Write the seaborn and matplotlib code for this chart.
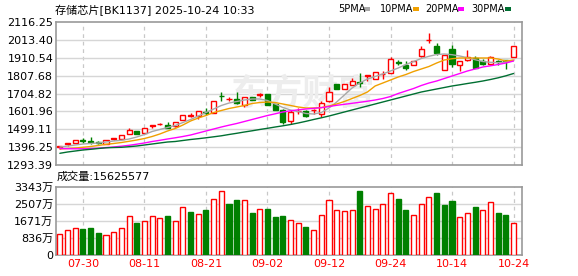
import numpy as np
import pandas as pd
import matplotlib
matplotlib.use("Agg")
import matplotlib.pyplot as plt
import seaborn as sns

# ---------------- data ----------------
open_ = [1398.7, 1412.5, 1418.3, 1437.2, 1429.8, 1424.0, 1414.3, 1444.8, 1443.0, 1470.0,
         1489.0, 1479.3, 1519.6, 1527.6, 1525.3, 1515.0, 1552.4, 1577.0, 1577.1, 1598.4,
         1594.3, 1693.3, 1671.5, 1673.2, 1638.7, 1684.7, 1697.9, 1702.0, 1642.7, 1609.9,
         1548.3, 1602.4, 1604.1, 1608.2, 1588.6, 1661.7, 1759.5, 1729.0, 1753.8, 1772.7,
         1805.5, 1786.5, 1815.3, 1824.5, 1886.1, 1868.8, 1868.8, 1922.3, 2011.0, 1979.9,
         1840.1, 1960.9, 1868.8, 1897.6, 1907.4, 1891.8, 1872.9, 1890.1, 1895.9, 1916.6]
high = [1404.5, 1418.3, 1436.0, 1447.1, 1454.5, 1431.5, 1436.0, 1448.8, 1465.0, 1504.6,
        1491.0, 1505.0, 1523.6, 1536.8, 1540.9, 1541.0, 1581.1, 1592.6, 1604.5, 1619.7,
        1662.0, 1711.7, 1686.4, 1711.7, 1687.0, 1686.0, 1709.4, 1703.0, 1643.0, 1613.9,
        1609.9, 1619.7, 1609.9, 1613.9, 1661.7, 1744.0, 1760.0, 1758.0, 1792.3, 1821.0,
        1811.3, 1827.0, 1836.0, 1916.6, 1899.3, 1891.8, 1892.0, 1979.9, 2051.2, 1993.7,
        1927.0, 1983.9, 1894.0, 1955.1, 1922.3, 1905.1, 1920.6, 1897.6, 1897.6, 1981.0]
low = [1385.5, 1404.5, 1418.0, 1421.8, 1414.3, 1412.5, 1414.0, 1437.2, 1443.0, 1470.0,
       1472.0, 1479.0, 1508.0, 1521.8, 1507.0, 1514.0, 1552.0, 1567.9, 1558.1, 1581.1,
       1594.0, 1661.7, 1663.4, 1647.0, 1625.4, 1666.0, 1683.0, 1639.0, 1609.0, 1527.6,
       1529.3, 1585.1, 1569.6, 1585.1, 1571.3, 1656.0, 1728.0, 1728.0, 1753.0, 1740.5,
       1776.8, 1786.0, 1788.3, 1824.0, 1868.8, 1840.1, 1868.0, 1916.6, 1993.7, 1926.4,
       1839.0, 1859.0, 1836.0, 1891.8, 1852.0, 1868.8, 1868.8, 1868.8, 1844.0, 1916.0]
close = [1404.5, 1418.3, 1435.5, 1433.2, 1425.8, 1420.0, 1435.5, 1448.8, 1464.3, 1493.0,
         1473.5, 1504.6, 1523.6, 1531.0, 1508.0, 1540.9, 1581.1, 1580.0, 1604.1, 1594.3,
         1661.7, 1687.6, 1674.9, 1648.4, 1686.4, 1667.4, 1703.7, 1640.4, 1609.9, 1539.1,
         1596.6, 1605.9, 1577.1, 1611.6, 1651.9, 1715.2, 1729.0, 1757.8, 1776.8, 1763.5,
         1811.3, 1826.8, 1819.9, 1901.6, 1882.1, 1849.8, 1891.8, 1960.9, 2014.4, 1936.2,
         1926.4, 1872.9, 1893.6, 1916.6, 1853.3, 1872.9, 1913.1, 1886.1, 1891.8, 1979.9]

ma5 = [1397.0, 1402.7, 1408.5, 1414.2, 1417.1, 1420.0, 1425.7, 1431.5, 1435.5, 1443.0,
       1454.5, 1468.9, 1486.1, 1497.7, 1509.2, 1520.7, 1537.9, 1555.2, 1575.3, 1595.5,
       1615.6, 1635.8, 1650.1, 1658.8, 1667.4, 1673.2, 1673.2, 1664.5, 1644.4, 1624.2,
       1609.9, 1601.2, 1589.7, 1586.8, 1595.5, 1621.4, 1655.9, 1696.2, 1736.4, 1765.2,
       1788.2, 1802.6, 1817.0, 1834.3, 1851.5, 1871.7, 1888.9, 1906.2, 1918.9, 1929.2,
       1932.1, 1928.1, 1920.6, 1910.8, 1899.3, 1888.9, 1884.3, 1882.0, 1886.1, 1893.5]
ma10 = [1385.5, 1388.3, 1391.2, 1395.2, 1399.9, 1405.6, 1412.5, 1417.1, 1422.8, 1429.8,
        1437.2, 1445.9, 1457.4, 1471.8, 1489.0, 1503.4, 1523.5, 1546.6, 1563.8, 1578.2,
        1595.5, 1607.0, 1618.5, 1627.1, 1635.8, 1647.3, 1653.0, 1655.9, 1653.0, 1644.4,
        1635.8, 1627.1, 1621.4, 1621.4, 1624.2, 1632.9, 1644.4, 1658.8, 1676.0, 1693.3,
        1713.4, 1748.0, 1765.2, 1782.5, 1799.7, 1814.1, 1831.4, 1845.8, 1860.2, 1880.3,
        1897.6, 1905.0, 1909.1, 1909.1, 1909.1, 1909.1, 1909.1, 1903.3, 1891.8, 1897.6]
ma20 = [1388.3, 1387.2, 1386.6, 1386.6, 1387.8, 1390.1, 1393.5, 1397.0, 1401.6, 1406.7,
        1413.1, 1420.0, 1428.6, 1435.5, 1443.0, 1449.9, 1457.4, 1466.0, 1477.5, 1489.0,
        1500.5, 1512.0, 1522.4, 1532.2, 1543.7, 1555.2, 1566.7, 1578.2, 1588.0, 1598.4,
        1605.3, 1611.0, 1615.6, 1619.6, 1623.1, 1630.0, 1636.9, 1642.7, 1648.4, 1654.2,
        1660.5, 1667.4, 1676.0, 1687.5, 1704.8, 1719.2, 1733.6, 1750.8, 1765.2, 1776.7,
        1791.1, 1805.5, 1819.9, 1834.3, 1845.8, 1857.3, 1864.2, 1871.7, 1880.3, 1891.8]
ma30 = [1360.7, 1368.2, 1373.9, 1379.7, 1383.7, 1388.3, 1392.4, 1394.1, 1395.2, 1398.7,
        1402.7, 1408.5, 1414.2, 1420.0, 1425.7, 1428.6, 1434.4, 1440.1, 1444.7, 1449.9,
        1455.6, 1461.4, 1468.9, 1475.8, 1483.3, 1490.2, 1497.7, 1504.6, 1512.0, 1518.9,
        1526.4, 1535.1, 1544.8, 1555.2, 1565.0, 1575.3, 1586.8, 1598.4, 1609.9, 1621.4,
        1632.9, 1644.4, 1655.9, 1667.4, 1678.9, 1690.4, 1701.9, 1713.4, 1722.1, 1730.7,
        1739.3, 1748.0, 1754.9, 1762.3, 1769.2, 1776.7, 1785.4, 1795.1, 1806.6, 1819.9]

volume = [1011, 1223, 1305, 1256, 1321, 1076, 962, 1109, 1305, 1925,
          1566, 1664, 1892, 1794, 1908, 1664, 2332, 2104, 2006, 2202,
          2724, 3115, 2495, 2691, 2675, 2055, 2234, 2251, 1859, 1908,
          1712, 1549, 1370, 1223, 1940, 2674, 2185, 2152, 2185, 3131,
          2381, 2250, 2495, 3017, 2740, 2201, 1940, 2478, 2821, 3033,
          2446, 2642, 1843, 2055, 2348, 2185, 2593, 2055, 1957, 1562.6]
vol_up = [1, 1, 1, 0, 0, 0, 1, 1, 1, 1, 0, 1, 1, 1, 0, 1, 1, 0, 1, 0,
          1, 1, 0, 0, 1, 0, 1, 0, 0, 0, 1, 1, 0, 1, 1, 1, 1, 1, 1, 0,
          1, 1, 1, 1, 0, 0, 1, 1, 1, 0, 0, 0, 1, 1, 0, 1, 1, 0, 0, 1]

tick_pos = [3, 11, 19, 27, 35, 43, 51, 59]
tick_labels = ["07-30", "08-11", "08-21", "09-02", "09-12", "09-24", "10-14", "10-24"]
price_ticks = [1293.39, 1396.25, 1499.11, 1601.96, 1704.82, 1807.68, 1910.54, 2013.40, 2116.25]
vol_ticks = [0, 836, 1671, 2507, 3343]
vol_tick_labels = ["0", "836万", "1671万", "2507万", "3343万"]
ma_names = ["5PMA", "10PMA", "20PMA", "30PMA"]
title = "存储芯片[BK1137] 2025-10-24 10:33"
vol_title = "成交量:15625577"

# ---------------- style ----------------
sns.set_theme(style="white")
plt.rcParams["font.family"] = ["DejaVu Sans", "Noto Sans CJK SC"]

RED = "#ff0000"
GREEN = "#008000"
ma_colors = ["#a8a8a8", "#f0a000", "#ff00ff", "#006f32"]
GRID = "#d6d6d6"
SPINE = "#999999"

n = len(close)
df = pd.DataFrame({"x": np.arange(n), "open": open_, "high": high, "low": low,
                   "close": close, "ma5": ma5, "ma10": ma10, "ma20": ma20,
                   "ma30": ma30, "vol": volume, "vol_up": vol_up})

W, H = 578, 276
fig = plt.figure(figsize=(W / 100, H / 100), dpi=100)
ax = fig.add_axes([56 / W, 1 - 165 / H, 466 / W, 143 / H])
axv = fig.add_axes([56 / W, 1 - 255 / H, 466 / W, 68.3 / H])

for a in (ax, axv):
    a.set_facecolor("white")
    for s in a.spines.values():
        s.set_color(SPINE)
        s.set_linewidth(1.2)
    a.set_xlim(-0.5, 60.1)
    a.set_xticks(tick_pos)
    a.grid(False)
    for t in tick_pos:
        a.axvline(t, color="#c8c8c8", lw=0.9, ls=(0, (3, 3)), zorder=0.5)
    a.tick_params(length=0, pad=2, labelsize=8, colors="black")

# ---- price panel ----
ax.set_ylim(price_ticks[0], price_ticks[-1])
ax.set_yticks(price_ticks)
ax.set_yticklabels([f"{v:.2f}" for v in price_ticks])
for v in price_ticks[1:-1]:
    ax.axhline(v, color=GRID, lw=1, zorder=0.5)
ax.set_xticklabels([])

ax.text(0.53, 0.5, "东方财富", transform=ax.transAxes, fontsize=26,
        family=["Noto Sans CJK SC"], fontweight="bold", color="#ededed",
        ha="center", va="center", zorder=0.6)

up = df["close"] >= df["open"]
cols = np.where(up, RED, GREEN)
body_lo = np.minimum(df["open"], df["close"])
body_h = np.maximum(np.abs(df["close"] - df["open"]), 1.0)
ax.vlines(df["x"], df["low"], df["high"], colors=cols, lw=1, zorder=2)
ax.bar(df["x"], body_h, bottom=body_lo, width=0.66,
       facecolor=np.where(up, "white", GREEN), edgecolor=cols, lw=1, zorder=3)

for name, c in zip(["ma5", "ma10", "ma20", "ma30"], ma_colors):
    sns.lineplot(data=df, x="x", y=name, ax=ax, color=c, lw=1.0, zorder=4)
ax.set_xlabel("")
ax.set_ylabel("")

# ---- volume panel ----
axv.set_ylim(0, vol_ticks[-1])
axv.set_yticks(vol_ticks)
axv.set_yticklabels(vol_tick_labels)
for v in vol_ticks[1:-1]:
    axv.axhline(v, color=GRID, lw=1, zorder=0.5)
vcols = np.where(df["vol_up"] == 1, RED, GREEN)
axv.bar(df["x"], df["vol"], width=0.66,
        facecolor=np.where(df["vol_up"] == 1, "white", GREEN),
        edgecolor=vcols, lw=1, zorder=3)
axv.set_xticklabels(tick_labels, color=RED, fontsize=8)
axv.tick_params(axis="x", pad=3)
for lab in axv.get_xticklabels():
    lab.set_color(RED)

# ---- texts ----
fig.text(55 / W, 1 - 10 / H, title, fontsize=8, va="center", ha="left", color="black")
fig.text(57 / W, 1 - 176.5 / H, vol_title, fontsize=8, va="center", ha="left", color="black")

leg_x = [338, 380, 425.5, 471.5]
dash_x = [364, 413, 458, 504.5]
for name, c, tx, dx in zip(ma_names, ma_colors, leg_x, dash_x):
    fig.text(tx / W, 1 - 9 / H, name, fontsize=7, va="center", ha="left", color="black")
    fig.patches.append(matplotlib.patches.Rectangle((dx / W, 1 - 10.5 / H), 6 / W, 3.5 / H,
                                                    transform=fig.transFigure,
                                                    facecolor=c, edgecolor="none"))

fig.savefig("out.png", dpi=100, facecolor="white")
